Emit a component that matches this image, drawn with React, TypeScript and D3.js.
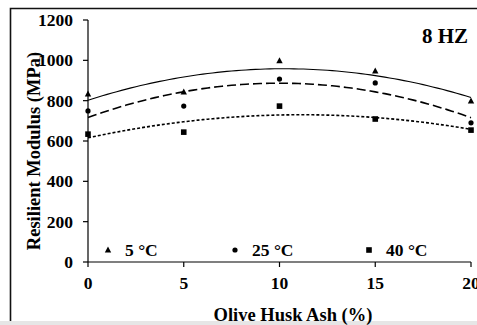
import React from 'react';
import * as d3 from 'd3';

const ashContent = [0, 5, 10, 15, 20];
const xTicks = [0, 5, 10, 15, 20];
const yTicks = [0, 200, 400, 600, 800, 1000, 1200];

const series = [
  { name: '5 °C', symbol: 'triangle', dash: null, values: [833, 843, 997, 947, 798] },
  { name: '25 °C', symbol: 'circle', dash: '9,4', values: [749, 773, 907, 888, 690] },
  { name: '40 °C', symbol: 'square', dash: '3,2', values: [634, 644, 773, 709, 654] },
];

const width = 477;
const height = 325;
const margin = { top: 20, right: 6, bottom: 63, left: 88 };
const font = '"Liberation Serif", "Times New Roman", serif';

// least squares fit, order 2 (the excel-style trendline)
function polyFit(xs: number[], ys: number[]) {
  const n = xs.length;
  const s = (p: number) => d3.sum(xs, x => Math.pow(x, p));
  const t = (p: number) => d3.sum(xs, (x, i) => Math.pow(x, p) * ys[i]);
  const A = [
    [n, s(1), s(2)],
    [s(1), s(2), s(3)],
    [s(2), s(3), s(4)],
  ];
  const B = [t(0), t(1), t(2)];
  // gaussian elimination
  for (let i = 0; i < 3; i++) {
    for (let j = i + 1; j < 3; j++) {
      const f = A[j][i] / A[i][i];
      for (let k = i; k < 3; k++) A[j][k] -= f * A[i][k];
      B[j] -= f * B[i];
    }
  }
  const c = [0, 0, 0];
  for (let i = 2; i >= 0; i--) {
    let v = B[i];
    for (let k = i + 1; k < 3; k++) v -= A[i][k] * c[k];
    c[i] = v / A[i][i];
  }
  return (x: number) => c[0] + c[1] * x + c[2] * x * x;
}

const Marker = ({ symbol, x, y }: { symbol: string; x: number; y: number }) => {
  if (symbol === 'triangle')
    return <path d={`M${x},${y - 3.6}L${x + 3.2},${y + 2.4}L${x - 3.2},${y + 2.4}Z`} fill="#000" />;
  if (symbol === 'circle') return <circle cx={x} cy={y} r={2.6} fill="#000" />;
  return <rect x={x - 2.8} y={y - 2.8} width={5.6} height={5.6} fill="#000" />;
};

export default function App() {
  const x = d3.scaleLinear().domain([0, 20]).range([margin.left, width - margin.right]);
  const y = d3.scaleLinear().domain([0, 1200]).range([height - margin.bottom, margin.top]);

  const samples = d3.range(0, 20.001, 0.25);
  const line = d3.line<number>().x(d => x(d)).y(d => y(d));

  const y0 = y(0);
  const legendX = [108, 235, 369];
  const legendY = 250;

  return (
    <svg width={width} height={height} style={{ position: 'absolute', left: 0, top: 0 }} fontFamily={font} fontWeight="bold">
      <rect x={0} y={0} width={width} height={height} fill="#fff" />
      <rect x={0} y={321} width={width} height={4} fill="#e6e6e6" />
      <path d={`M10.5,${height - 4}V8.5H${width + 2}`} fill="none" stroke="#111" strokeWidth={1.6} />

      {/* axes */}
      <line x1={x(0)} x2={x(20)} y1={y0} y2={y0} stroke="#000" strokeWidth={1.2} />
      <line x1={x(0)} x2={x(0)} y1={y(0)} y2={y(1200)} stroke="#000" strokeWidth={1.2} />
      {xTicks.map(t => (
        <g key={t}>
          <line x1={x(t)} x2={x(t)} y1={y0} y2={y0 + 5} stroke="#000" strokeWidth={1.2} />
          <text x={x(t)} y={y0 + 27} textAnchor="middle" fontSize={17.5}>{t}</text>
        </g>
      ))}
      {yTicks.map(t => (
        <g key={t}>
          <line x1={x(0) - 5} x2={x(0)} y1={y(t)} y2={y(t)} stroke="#000" strokeWidth={1.2} />
          <text x={x(0) - 15} y={y(t)} dy="0.35em" textAnchor="end" fontSize={17.5}>{t}</text>
        </g>
      ))}

      {/* trendlines */}
      {series.map(s => {
        const f = polyFit(ashContent, s.values);
        return (
          <path key={s.name} d={line.y(d => y(f(d)))(samples) || ''} fill="none" stroke="#000"
            strokeWidth={s.dash ? 1.6 : 1.1} strokeDasharray={s.dash || undefined} />
        );
      })}

      {/* points */}
      {series.map(s => (
        <g key={s.name}>
          {s.values.map((v, i) => (
            <Marker key={i} symbol={s.symbol} x={x(ashContent[i])} y={y(v)} />
          ))}
        </g>
      ))}

      {/* legend */}
      {series.map((s, i) => (
        <g key={s.name}>
          <Marker symbol={s.symbol} x={legendX[i]} y={legendY} />
          <text x={legendX[i] + 17} y={legendY + 6} fontSize={17.5}>{s.name}</text>
        </g>
      ))}

      <text x={468} y={43} textAnchor="end" fontSize={21}>8 HZ</text>

      <text x={293} y={321} textAnchor="middle" fontSize={18.5}>Olive Husk Ash (%)</text>
      <text transform="translate(34,151) rotate(-90)" dy="0.35em" textAnchor="middle" fontSize={18.5}>
        Resilient Modulus (MPa)
      </text>
    </svg>
  );
}
